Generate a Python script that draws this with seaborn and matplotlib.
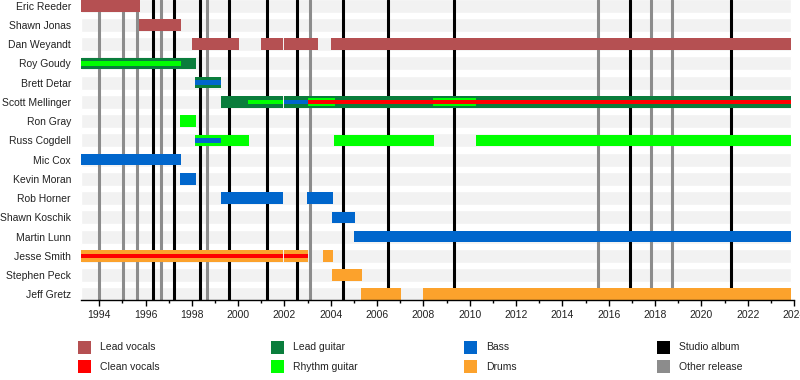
import matplotlib
matplotlib.use("Agg")
import matplotlib.pyplot as plt
from matplotlib.patches import Rectangle
import seaborn as sns

members = ["Eric Reeder", "Shawn Jonas", "Dan Weyandt", "Roy Goudy", "Brett Detar",
           "Scott Mellinger", "Ron Gray", "Russ Cogdell", "Mic Cox", "Kevin Moran",
           "Rob Horner", "Shawn Koschik", "Martin Lunn", "Jesse Smith", "Stephen Peck",
           "Jeff Gretz"]

start = 1993.2
end = 2023.86

# (member, from, to)
lead_vocals = [("Eric Reeder", 1993.2, 1995.74), ("Shawn Jonas", 1995.71, 1997.53),
               ("Dan Weyandt", 1998.0, 2000.02), ("Dan Weyandt", 2000.98, 2001.92),
               ("Dan Weyandt", 2001.965, 2003.43), ("Dan Weyandt", 2004.0, 2023.86)]
lead_guitar = [("Roy Goudy", 1993.2, 1998.18), ("Brett Detar", 1998.13, 1999.26),
               ("Scott Mellinger", 1999.26, 2001.92), ("Scott Mellinger", 2001.965, 2023.86)]
rhythm_guitar = [("Ron Gray", 1997.48, 1998.18), ("Russ Cogdell", 1998.13, 2000.46),
                 ("Russ Cogdell", 2004.13, 2008.44), ("Russ Cogdell", 2010.25, 2023.86)]
rhythm_guitar_mid = [("Scott Mellinger", 2003.01, 2004.18), ("Scott Mellinger", 2008.41, 2010.26)]
rhythm_guitar_thin = [("Roy Goudy", 1993.2, 1997.53), ("Scott Mellinger", 2000.42, 2001.92)]
bass = [("Mic Cox", 1993.2, 1997.53), ("Kevin Moran", 1997.48, 1998.18),
        ("Rob Horner", 1999.26, 2001.92), ("Rob Horner", 2002.98, 2004.09),
        ("Shawn Koschik", 2004.05, 2005.05), ("Martin Lunn", 2005.0, 2023.86)]
bass_thin = [("Brett Detar", 1998.13, 1999.26), ("Russ Cogdell", 1998.13, 1999.26),
             ("Scott Mellinger", 2001.965, 2003.02)]
drums = [("Jesse Smith", 1993.2, 2001.92), ("Jesse Smith", 2001.965, 2003.0),
         ("Jesse Smith", 2003.65, 2004.09), ("Stephen Peck", 2004.05, 2005.35),
         ("Jeff Gretz", 2005.3, 2007.03), ("Jeff Gretz", 2007.98, 2023.86)]
clean_vocals_thin = [("Jesse Smith", 1993.2, 2001.92), ("Jesse Smith", 2001.965, 2003.0),
                     ("Scott Mellinger", 2003.02, 2023.86)]

studio_albums = [1996.33, 1997.24, 1998.36, 1999.61, 2001.23, 2002.52, 2004.52,
                 2006.45, 2009.32, 2016.91, 2021.27]
other_releases = [1994.0, 1995.01, 1995.64, 1996.68, 1998.64, 2003.10, 2015.52,
                  2017.82, 2018.72]

colors = {
    "Lead vocals": "#b55052",
    "Clean vocals": "#ff0000",
    "Lead guitar": "#0a7d3c",
    "Rhythm guitar": "#00ff00",
    "Bass": "#0066cc",
    "Drums": "#fca22c",
    "Studio album": "#000000",
    "Other release": "#8c8c8c",
}

sns.set_theme(style="white")
plt.rcParams['font.family'] = ['Liberation Sans', 'DejaVu Sans']

fig = plt.figure(figsize=(8, 3.8), dpi=100)
ax = fig.add_axes([80.7 / 800, 80 / 380, 713.3 / 800, 300 / 380])

ypos = {name: i for i, name in enumerate(members)}

# background row bands
ax.barh(range(len(members)), end - start, left=start, height=0.73, color="#f2f2f2", zorder=0)

for x in other_releases:
    ax.axvline(x, color=colors["Other release"], lw=2.2, zorder=1)
for x in studio_albums:
    ax.axvline(x, color=colors["Studio album"], lw=2.2, zorder=1)


def draw(spans, color, height, z):
    for name, a, b in spans:
        ax.barh(ypos[name], b - a, left=a, height=height, color=color, linewidth=0, zorder=z)


draw(lead_vocals, colors["Lead vocals"], 0.6, 2)
draw(lead_guitar, colors["Lead guitar"], 0.6, 2)
draw(rhythm_guitar, colors["Rhythm guitar"], 0.6, 2)
draw(bass, colors["Bass"], 0.6, 2)
draw(drums, colors["Drums"], 0.6, 2)
draw(rhythm_guitar_mid, colors["Rhythm guitar"], 0.45, 3)
draw(rhythm_guitar_thin, colors["Rhythm guitar"], 0.23, 4)
draw(bass_thin, colors["Bass"], 0.23, 4)
draw(clean_vocals_thin, colors["Clean vocals"], 0.23, 4)

ax.set_xlim(start, 2024.0)
ax.set_ylim(len(members) - 1 + 0.3, -0.3)
ax.set_yticks(range(len(members)))
ax.set_yticklabels(members, fontsize=7.5, color="#222222")
ax.tick_params(axis="y", length=0, pad=7)
ax.set_xticks(range(1994, 2025, 2))
ax.set_xticks(range(1994, 2025), minor=True)
ax.tick_params(axis="x", which="major", length=4, width=1, color="black", direction="out",
               bottom=True, labelsize=7.5, labelcolor="#222222", pad=3.5)
ax.tick_params(axis="x", which="minor", length=2.5, width=1, color="black", direction="out",
               bottom=True)
ax.grid(False)
sns.despine(ax=ax, left=True)
ax.spines["bottom"].set_color("black")
ax.spines["bottom"].set_linewidth(1)
ax.set_facecolor("white")

# legend
legend_cols = [["Lead vocals", "Clean vocals"], ["Lead guitar", "Rhythm guitar"],
               ["Bass", "Drums"], ["Studio album", "Other release"]]
col_x = [78, 271, 464, 657]
row_y = [341, 360]
for cx, labels in zip(col_x, legend_cols):
    for ry, lab in zip(row_y, labels):
        fig.add_artist(Rectangle((cx / 800, 1 - (ry + 13) / 380), 13 / 800, 13 / 380,
                                 transform=fig.transFigure, color=colors[lab], lw=0))
        fig.text((cx + 22) / 800, 1 - (ry + 6.5) / 380, lab, fontsize=7.5,
                 va="center", ha="left", color="#222222")

fig.savefig("out.png", dpi=100)
